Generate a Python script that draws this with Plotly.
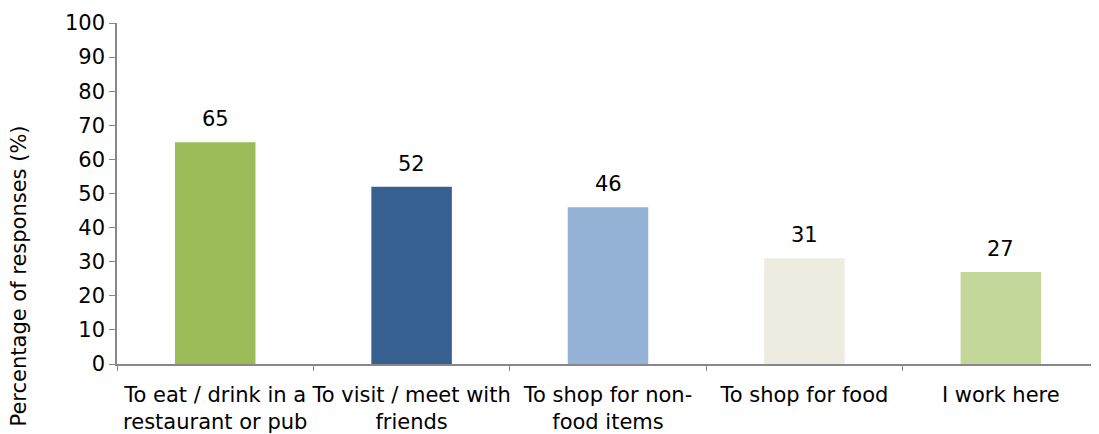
import plotly.graph_objects as go

categories = ["To eat / drink in a<br>restaurant or pub", "To visit / meet with<br>friends",
              "To shop for non-<br>food items", "To shop for food", "I work here"]
values = [65, 52, 46, 31, 27]
colors = ["#9BBB59", "#376092", "#95B3D7", "#EEECE1", "#C4D79B"]
y_ticks = list(range(0, 101, 10))

FONT = "DejaVu Sans"
FS = 21

fig = go.Figure(go.Bar(
    x=categories, y=values, marker=dict(color=colors, line=dict(width=0)),
    width=0.41, hoverinfo="x+y",
))

for c, v in zip(categories, values):
    fig.add_annotation(x=c, y=v, text=str(v), showarrow=False, yanchor="bottom",
                       yshift=9, font=dict(family=FONT, size=FS, color="#000000"))

fig.add_annotation(text="Percentage of responses (%)", textangle=-90, showarrow=False,
                   xref="paper", yref="paper", x=(18 - 117) / 982, y=(364 - 124) / 341,
                   xanchor="center", yanchor="top",
                   font=dict(family=FONT, size=FS, color="#000000"))

fig.update_layout(
    width=1099, height=434, margin=dict(l=109, r=8, t=15, b=78),
    plot_bgcolor="white", paper_bgcolor="white", showlegend=False,
    font=dict(family=FONT, size=FS, color="#000000"),
    xaxis=dict(type="category", tickson="boundaries", ticks="outside", ticklen=5,
               tickcolor="#888888", showline=True, linecolor="#888888", linewidth=1.5,
               showgrid=False, automargin=False, tickangle=0, ticklabelstandoff=11,
               tickfont=dict(family=FONT, size=FS, color="#000000")),
    yaxis=dict(range=[0, 100], tickvals=y_ticks, ticks="outside", ticklen=6,
               tickcolor="#888888", showline=True, linecolor="#888888", linewidth=1.5,
               showgrid=False, zeroline=False, automargin=False,
               tickfont=dict(family=FONT, size=FS, color="#000000")),
)

fig.write_html("out.html")
